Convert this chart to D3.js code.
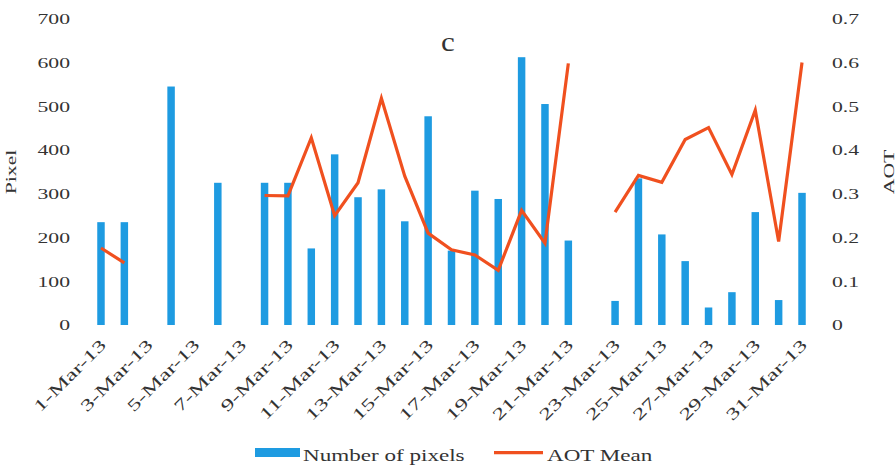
<!DOCTYPE html>
<html>
<head>
<meta charset="utf-8">
<script src="https://cdn.jsdelivr.net/npm/d3@7/dist/d3.min.js"></script>
<style>
  html, body { margin: 0; padding: 0; background: #fff; }
  svg { display: block; }
  text { font-family: "Liberation Serif", "Times New Roman", serif; fill: #333; }
</style>
</head>
<body>
<svg id="chart" width="896" height="468"></svg>
<script>
const categories = ["1-Mar-13","2-Mar-13","3-Mar-13","4-Mar-13","5-Mar-13","6-Mar-13","7-Mar-13","8-Mar-13","9-Mar-13","10-Mar-13",
  "11-Mar-13","12-Mar-13","13-Mar-13","14-Mar-13","15-Mar-13","16-Mar-13","17-Mar-13","18-Mar-13","19-Mar-13","20-Mar-13",
  "21-Mar-13","22-Mar-13","23-Mar-13","24-Mar-13","25-Mar-13","26-Mar-13","27-Mar-13","28-Mar-13","29-Mar-13","30-Mar-13","31-Mar-13"];
const tickLabels = ["1-Mar-13","3-Mar-13","5-Mar-13","7-Mar-13","9-Mar-13","11-Mar-13","13-Mar-13","15-Mar-13",
  "17-Mar-13","19-Mar-13","21-Mar-13","23-Mar-13","25-Mar-13","27-Mar-13","29-Mar-13","31-Mar-13"];
const pixelValues = [235,235,null,545,null,325,null,325,325,175,
  390,292,310,237,477,170,307,288,612,505,
  193,null,55,335,207,146,40,75,258,57,302];
const aotValues = [0.176,0.142,null,null,null,null,null,0.296,0.295,0.428,
  0.25,0.325,0.518,0.34,0.21,0.172,0.16,0.125,0.262,0.187,
  0.598,null,0.258,0.342,0.326,0.424,0.451,0.344,0.491,0.191,0.6];
const leftTicks = [0,100,200,300,400,500,600,700];
const rightTicks = [0,0.1,0.2,0.3,0.4,0.5,0.6,0.7];
const seriesNames = ["Number of pixels","AOT Mean"];
const titleText = "c";

const BLUE = "#1E9BE1", RED = "#F0501F";
const STRETCH = 1.4;
const svg = d3.select("#chart");

const x = d3.scaleBand().domain(categories).range([89.3, 813.7]).paddingInner(0.68).paddingOuter(0.34);
const yL = d3.scaleLinear().domain([0, 700]).range([325, 18.7]);
const yR = d3.scaleLinear().domain([0, 0.7]).range([325, 18.7]);

function stext(px, py, str, opts) {
  opts = opts || {};
  const g = svg.append("g").attr("transform",
    `translate(${px},${py}) rotate(${opts.rotate || 0}) scale(${opts.stretch || STRETCH},1)`);
  return g.append("text").text(str)
    .attr("font-size", opts.size || 15.5)
    .attr("text-anchor", opts.anchor || "start")
    .attr("dominant-baseline", opts.baseline || "auto");
}

// bars
const barData = categories.map((c, i) => ({c, v: pixelValues[i]})).filter(d => d.v != null);
svg.append("g").selectAll("rect").data(barData).join("rect")
  .attr("x", d => x(d.c))
  .attr("width", x.bandwidth())
  .attr("y", d => yL(d.v))
  .attr("height", d => yL(0) - yL(d.v))
  .attr("fill", BLUE);

// line
const lineData = categories.map((c, i) => ({c, v: aotValues[i]}));
const line = d3.line()
  .defined(d => d.v != null)
  .x(d => x(d.c) + x.bandwidth() / 2)
  .y(d => yR(d.v));
svg.append("path").datum(lineData)
  .attr("d", line)
  .attr("fill", "none")
  .attr("stroke", RED)
  .attr("stroke-width", 3.2)
  .attr("stroke-linejoin", "miter");

// left axis labels
leftTicks.forEach(t => stext(70, yL(t), String(t), {anchor: "end", baseline: "central"}));
// right axis labels
rightTicks.forEach(t => stext(832, yR(t), String(t), {anchor: "start", baseline: "central"}));

// x labels
tickLabels.forEach(lbl => {
  const cx = x(lbl) + x.bandwidth() / 2;
  stext(cx + 6, 346, lbl, {anchor: "end", rotate: -45, size: 16.5, stretch: 1.5});
});

// axis titles
stext(16, 172, "Pixel", {anchor: "middle", rotate: -90});
stext(894, 172, "AOT", {anchor: "middle", rotate: -90});

// title
stext(448, 51, titleText, {anchor: "middle", size: 27, stretch: 1.15});

// legend
svg.append("rect").attr("x", 255).attr("y", 448).attr("width", 45).attr("height", 9).attr("fill", BLUE);
stext(303, 461, seriesNames[0], {size: 16.5});
svg.append("line").attr("x1", 494).attr("x2", 543).attr("y1", 452.7).attr("y2", 452.7)
  .attr("stroke", RED).attr("stroke-width", 3.2);
stext(547, 461, seriesNames[1], {size: 16.5});
</script>
</body>
</html>
